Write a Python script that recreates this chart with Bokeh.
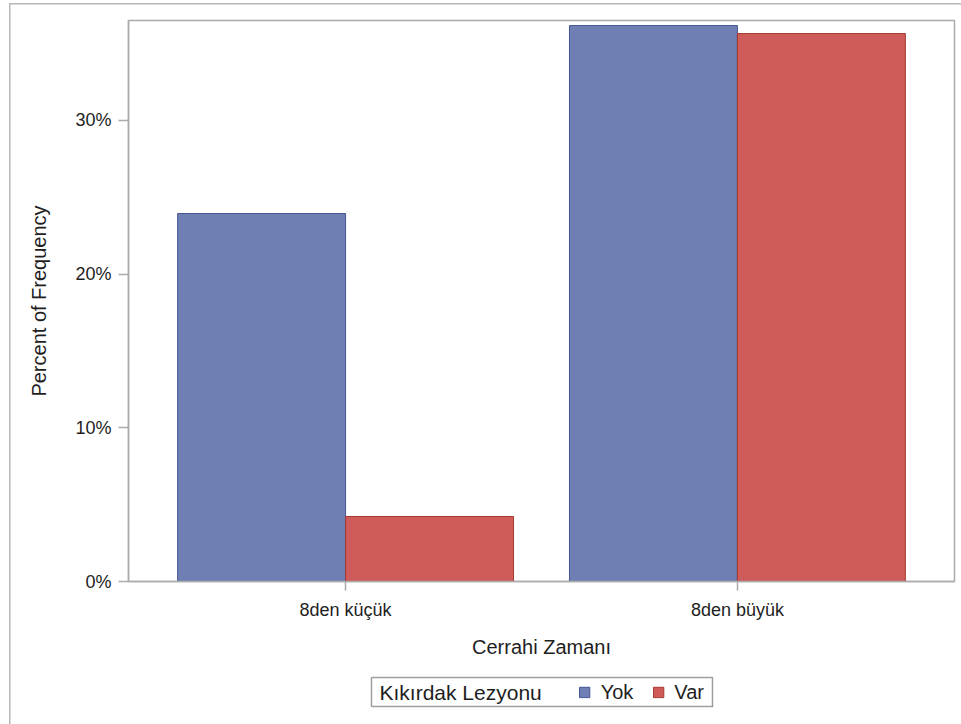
from bokeh.plotting import figure
from bokeh.layouts import column
from bokeh.models import (FactorRange, Range1d, Legend, LegendItem, Label,
                          PrintfTickFormatter, FixedTicker, ColumnDataSource)
from bokeh.transform import dodge
from bokeh.embed import file_html
from bokeh.resources import INLINE

# ---- data ----
categories = ["8den küçük", "8den büyük"]
series = ["Yok", "Var"]
yok_pct = [23.94, 36.17]
var_pct = [4.23, 35.65]
y_ticks = [0, 10, 20, 30]
x_title = "Cerrahi Zamanı"
y_title = "Percent of Frequency"
legend_title = "Kıkırdak Lezyonu"

FONT = "Liberation Sans"
GRAY = "#ababab"
TXT = "#1e1e1e"
YOK_FILL, YOK_LINE = "#6F7EB3", "#445694"
VAR_FILL, VAR_LINE = "#D05B5B", "#A23A2E"

src = ColumnDataSource(dict(cat=categories, yok=yok_pct, var=var_pct))

# ---------------- main chart ----------------
p = figure(width=961, height=665,
           x_range=FactorRange(factors=categories, range_padding=0.054),
           y_range=Range1d(0, 36.5),
           output_backend="svg", toolbar_location=None,
           min_border_left=128, min_border_right=7,
           min_border_top=20, min_border_bottom=84)
p.frame_align = False

half = 0.4286
r1 = p.vbar(x=dodge("cat", -half / 2, range=p.x_range), top="yok", width=half,
            source=src, fill_color=YOK_FILL, line_color=YOK_LINE, line_width=1)
r2 = p.vbar(x=dodge("cat", half / 2, range=p.x_range), top="var", width=half,
            source=src, fill_color=VAR_FILL, line_color=VAR_LINE, line_width=1)

p.xgrid.visible = False
p.ygrid.visible = False
p.outline_line_color = GRAY
p.outline_line_width = 1.5
p.background_fill_color = "white"
p.border_fill_color = None

for ax in (p.xaxis[0], p.yaxis[0]):
    ax.axis_line_color = GRAY
    ax.axis_line_width = 1.5
    ax.major_tick_line_color = GRAY
    ax.major_tick_line_width = 1.5
    ax.minor_tick_line_color = None
    ax.major_tick_in = 0
    ax.major_label_text_font = FONT
    ax.major_label_text_font_size = "18px"
    ax.major_label_text_color = TXT
    ax.axis_label_text_font = FONT
    ax.axis_label_text_font_size = "20px"
    ax.axis_label_text_font_style = "normal"
    ax.axis_label_text_color = TXT

p.yaxis.ticker = FixedTicker(ticks=y_ticks)
p.yaxis.formatter = PrintfTickFormatter(format="%d%%")
p.yaxis.major_tick_out = 10
p.yaxis.major_label_standoff = 7
p.yaxis.axis_label = y_title
p.yaxis.axis_label_standoff = 22

p.xaxis.major_tick_out = 9
p.xaxis.major_label_standoff = 9
p.xaxis.axis_label = x_title
p.xaxis.axis_label_standoff = 13

# ---------------- legend strip ----------------
lf = figure(width=961, height=59, x_range=Range1d(0, 1), y_range=Range1d(0, 1),
            output_backend="svg", toolbar_location=None,
            min_border_left=371, min_border_right=249,
            min_border_top=12, min_border_bottom=18)
lf.frame_align = False
lf.axis.visible = False
lf.grid.visible = False
lf.outline_line_color = "#a0a0a0"
lf.outline_line_width = 1.5
lf.background_fill_color = "white"
lf.border_fill_color = None

# legend-only renderers (their single point lies outside the strip's range)
d1 = lf.vbar(x=[5], top=[0], width=0.1, fill_color=YOK_FILL, line_color=YOK_LINE)
d2 = lf.vbar(x=[5], top=[0], width=0.1, fill_color=VAR_FILL, line_color=VAR_LINE)

lf.add_layout(Label(x=0, y=0.5, x_offset=8, text=legend_title,
                    text_baseline="middle", text_align="left",
                    text_font=FONT, text_font_size="21px", text_color=TXT))

legend = Legend(items=[LegendItem(label=series[0], renderers=[d1]),
                       LegendItem(label=series[1], renderers=[d2])],
                orientation="horizontal", location="right")
legend.label_text_font = FONT
legend.label_text_font_size = "20px"
legend.label_text_color = TXT
legend.label_standoff = 10
legend.label_height = 17
legend.glyph_width = 13
legend.glyph_height = 13
legend.spacing = 18
legend.padding = 4
legend.margin = 8
legend.border_line_color = None
legend.background_fill_alpha = 0
lf.add_layout(legend, "center")

page = column(p, lf, spacing=0)
page.styles = {"background-color": "white",
               "box-shadow": "inset 9px 3px 0 0 white, inset 10.5px 4.5px 0 0 #b8b8b8"}

open("out.html", "w").write(file_html(page, INLINE))
